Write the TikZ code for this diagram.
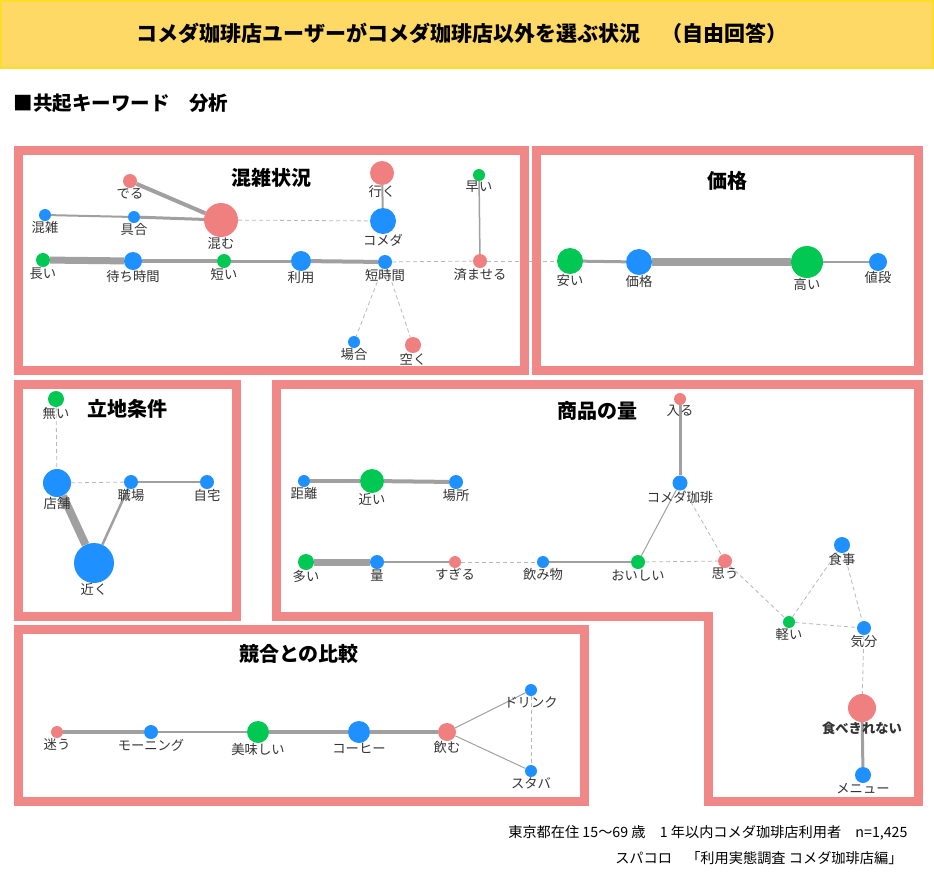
\documentclass[tikz,border=0pt]{standalone}
\usepackage{fontspec}
\setmainfont{Noto Sans CJK JP}
\usetikzlibrary{backgrounds}
\definecolor{kwblue}{RGB}{30,144,255}
\definecolor{kwgreen}{RGB}{0,200,83}
\definecolor{kwpink}{RGB}{240,128,128}
\definecolor{framecol}{RGB}{240,136,136}
\definecolor{barfill}{RGB}{255,217,102}
\definecolor{barline}{RGB}{250,222,40}
\definecolor{edgecol}{RGB}{160,160,160}
\tikzset{
  kw/.style={circle, inner sep=0pt, minimum size=#1},
  kb/.style={kw=#1, fill=kwblue},
  kg/.style={kw=#1, fill=kwgreen},
  kp/.style={kw=#1, fill=kwpink},
  lab/.style={font=\fontsize{13.3}{13.3}\selectfont, text=black!80, inner sep=0pt},
  boldlab/.style={lab, font=\fontsize{13.3}{13.3}\selectfont\bfseries},
  paneltitle/.style={font=\fontsize{20}{20}\selectfont\bfseries},
  panel/.style={draw=framecol, line width=9pt},
  link/.style={draw=edgecol, line width=#1},
  weak/.style={draw=black!28, line width=0.8pt, dash pattern=on 4pt off 3pt}
}
\begin{document}
\begin{tikzpicture}[x=1pt, y=-1pt]
  \useasboundingbox (0,0) rectangle (934,871);
  \draw[fill=barfill, draw=barline, line width=1.5pt] (1,1) rectangle (933,68);
  \node[font=\fontsize{21}{21}\selectfont\bfseries] (title) at (462,33) {コメダ珈琲店ユーザーがコメダ珈琲店以外を選ぶ状況　（自由回答）};
  \node[font=\fontsize{19.5}{19.5}\selectfont\bfseries, anchor=west] (heading) at (10,103) {■共起キーワード　分析};

  \draw[panel] (18,150) rectangle (524,370);
  \draw[panel] (536,150) rectangle (918,370);
  \draw[panel] (18,384) rectangle (236,616);
  \draw[panel] (276,384) -- (918,384) -- (918,801) -- (708,801) -- (708,616) -- (276,616) -- cycle;
  \draw[panel] (18,629) rectangle (584,801);

  \node[paneltitle] (t1) at (271,178) {混雑状況};
  \node[kp=14pt, label={[lab]below:でる}] (deru) at (130,181) {};
  \node[kb=12pt, label={[lab]below:混雑}] (konzatsu) at (45,215) {};
  \node[kb=12pt, label={[lab]below:具合}] (guai) at (134,217) {};
  \node[kp=34pt, label={[lab]below:混む}] (komu) at (221,220) {};
  \node[kp=24pt, label={[lab]below:行く}] (iku) at (382,173) {};
  \node[kb=26pt, label={[lab]below:コメダ}] (komeda) at (383,221) {};
  \node[kg=12pt, label={[lab]below:早い}] (hayai) at (479,175) {};
  \node[kg=14pt, label={[lab]below:長い}] (nagai) at (43,260) {};
  \node[kb=18pt, label={[lab]below:待ち時間}] (machi) at (133,261) {};
  \node[kg=14pt, label={[lab]below:短い}] (mijikai) at (224,261) {};
  \node[kb=20pt, label={[lab]below:利用}] (riyou) at (301,261) {};
  \node[kb=14pt, label={[lab]below:短時間}] (tanjikan) at (385,262) {};
  \node[kp=14pt, label={[lab]below:済ませる}] (sumaseru) at (480,261) {};
  \node[kb=12pt, label={[lab]below:場合}] (baai) at (354,342) {};
  \node[kp=16pt, label={[lab]below:空く}] (aku) at (413,345) {};

  \node[paneltitle] (t2) at (727,181) {価格};
  \node[kg=26pt, label={[lab]below:安い}] (yasui) at (570,261) {};
  \node[kb=26pt, label={[lab]below:価格}] (kakaku) at (639,262) {};
  \node[kg=32pt, label={[lab]below:高い}] (takai) at (807,262) {};
  \node[kb=18pt, label={[lab]below:値段}] (nedan) at (878,262) {};

  \node[paneltitle] (t3) at (127,409) {立地条件};
  \node[kg=16pt, label={[lab]below:無い}] (nai) at (56,399) {};
  \node[kb=28pt, label={[lab]below:店舗}] (tenpo) at (57,483) {};
  \node[kb=14pt, label={[lab]below:職場}] (shokuba) at (131,482) {};
  \node[kb=14pt, label={[lab]below:自宅}] (jitaku) at (207,482) {};
  \node[kb=40pt, label={[lab]below:近く}] (chikaku) at (94,563) {};

  \node[paneltitle] (t4) at (597,411) {商品の量};
  \node[kp=12pt, label={[lab]below:入る}] (hairu) at (680,399) {};
  \node[kb=12pt, label={[lab]below:距離}] (kyori) at (304,481) {};
  \node[kg=24pt, label={[lab]below:近い}] (chikai) at (372,481) {};
  \node[kb=14pt, label={[lab]below:場所}] (basho) at (456,482) {};
  \node[kb=15pt, label={[lab]below:コメダ珈琲}] (komedacoffee) at (680,483) {};
  \node[kg=16pt, label={[lab]below:多い}] (ooi) at (306,562) {};
  \node[kb=14pt, label={[lab]below:量}] (ryou) at (377,562) {};
  \node[kp=12pt, label={[lab]below:すぎる}] (sugiru) at (455,562) {};
  \node[kb=12pt, label={[lab]below:飲み物}] (nomimono) at (543,562) {};
  \node[kg=14pt, label={[lab]below:おいしい}] (oishii) at (638,562) {};
  \node[kp=14pt, label={[lab]below:思う}] (omou) at (725,561) {};
  \node[kb=16pt, label={[lab]below:食事}] (shokuji) at (842,545) {};
  \node[kg=12pt, label={[lab]below:軽い}] (karui) at (789,622) {};
  \node[kb=14pt, label={[lab]below:気分}] (kibun) at (864,628) {};
  \node[kp=28pt, label={[boldlab]below:食べきれない}] (tabekirenai) at (862,708) {};
  \node[kb=16pt, label={[lab]below:メニュー}] (menu) at (863,775) {};

  \node[paneltitle] (t5) at (299,654) {競合との比較};
  \node[kp=12pt, label={[lab]below:迷う}] (mayou) at (57,732) {};
  \node[kb=14pt, label={[lab]below:モーニング}] (morning) at (151,732) {};
  \node[kg=22pt, label={[lab]below:美味しい}] (bimi) at (258,732) {};
  \node[kb=22pt, label={[lab]below:コーヒー}] (coffee) at (359,732) {};
  \node[kp=18pt, label={[lab]below:飲む}] (nomu) at (447,732) {};
  \node[kb=12pt, label={[lab]below:ドリンク}] (drink) at (531,690) {};
  \node[kb=12pt, label={[lab]below:スタバ}] (staba) at (531,771) {};

  \begin{scope}[on background layer]
    \draw[link=4pt] (deru) -- (komu);
    \draw[link=2pt] (konzatsu) -- (guai);
    \draw[link=3pt] (guai) -- (komu);
    \draw[weak] (komu) -- (komeda);
    \draw[link=2pt] (iku) -- (komeda);
    \draw[link=1.5pt] (hayai) -- (sumaseru);
    \draw[link=7pt] (nagai) -- (machi);
    \draw[link=4pt] (machi) -- (mijikai);
    \draw[link=3pt] (mijikai) -- (riyou);
    \draw[link=4pt] (riyou) -- (tanjikan);
    \draw[weak] (tanjikan) -- (sumaseru);
    \draw[weak] (sumaseru) -- (yasui);
    \draw[weak] (tanjikan) -- (baai);
    \draw[weak] (tanjikan) -- (aku);
    \draw[link=3pt] (yasui) -- (kakaku);
    \draw[link=8pt] (kakaku) -- (takai);
    \draw[link=1.5pt] (takai) -- (nedan);
    \draw[weak] (nai) -- (tenpo);
    \draw[weak] (tenpo) -- (shokuba);
    \draw[link=2pt] (shokuba) -- (jitaku);
    \draw[link=8pt] (tenpo) -- (chikaku);
    \draw[link=2.5pt] (shokuba) -- (chikaku);
    \draw[link=3pt] (hairu) -- (komedacoffee);
    \draw[link=4pt] (kyori) -- (chikai);
    \draw[link=4pt] (chikai) -- (basho);
    \draw[link=7pt] (ooi) -- (ryou);
    \draw[link=1.5pt] (ryou) -- (sugiru);
    \draw[weak] (sugiru) -- (nomimono);
    \draw[link=2.5pt] (nomimono) -- (oishii);
    \draw[link=1pt] (oishii) -- (komedacoffee);
    \draw[weak] (oishii) -- (omou);
    \draw[weak] (komedacoffee) -- (omou);
    \draw[weak] (omou) -- (karui);
    \draw[weak] (karui) -- (shokuji);
    \draw[weak] (karui) -- (kibun);
    \draw[weak] (shokuji) -- (kibun);
    \draw[weak] (kibun) -- (tabekirenai);
    \draw[link=3pt] (tabekirenai) -- (menu);
    \draw[link=4pt] (mayou) -- (morning);
    \draw[link=2pt] (morning) -- (bimi);
    \draw[link=4pt] (bimi) -- (coffee);
    \draw[link=4pt] (coffee) -- (nomu);
    \draw[link=1pt] (nomu) -- (drink);
    \draw[link=1pt] (nomu) -- (staba);
    \draw[weak] (drink) -- (staba);
  \end{scope}

  \node[font=\fontsize{14.2}{14.2}\selectfont, anchor=east] (survey) at (911,833) {東京都在住 15～69 歳　1 年以内コメダ珈琲店利用者　n=1,425};
  \node[font=\fontsize{14.2}{14.2}\selectfont, anchor=east] (source) at (906,858) {スパコロ　「利用実態調査 コメダ珈琲店編」};
\end{tikzpicture}
\end{document}
